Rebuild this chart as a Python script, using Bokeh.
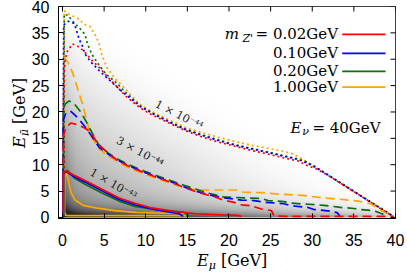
import numpy as np
from bokeh.plotting import figure
from bokeh.models import Range1d, FixedTicker, Label, Div
from bokeh.layouts import row, column
from bokeh.embed import file_html
from bokeh.resources import INLINE

# ---------------- data ----------------
ticks = [0, 5, 10, 15, 20, 25, 30, 35, 40]
masses = ["0.02GeV", "0.10GeV", "0.20GeV", "1.00GeV"]
colors = ["#ff0000", "#0000ff", "#0a700a", "#ffa500"]
E_nu = 40

# contour sigma = 1e-44 (dotted)
red_d1_x = [0.1, 0.1, 0.1, 0.2, 0.5, 1.2, 1.8, 2.6, 3.6, 4.5, 5.5, 6.7, 7.6, 9.3, 10.7, 12.8, 14.7, 16.7, 18.7, 20.7, 22.7, 24.7, 26.6, 28.3, 29.6, 30.4, 32, 34, 36, 38, 39.6]
red_d1_y = [0.3, 10, 20, 28, 31.3, 32.9, 32.5, 31.5, 29.7, 28.3, 26.5, 24.5, 23.0, 20.8, 19.5, 17.9, 16.5, 15.3, 14.3, 13.5, 12.7, 12.0, 11.3, 10.7, 9.7, 9.3, 7.9, 5.9, 3.9, 1.9, 0.3]
blue_d1_x = [0.1, 0.1, 0.1, 0.15, 0.7, 1.4, 1.6, 2.0, 2.4, 2.7, 3.4, 4.5, 5.8, 7.2, 9.3, 10.7, 12.8, 14.7, 16.7, 18.7, 20.7, 22.7, 24.7, 26.6, 28.3, 29.5, 30.5, 32, 34, 36, 38, 39.6]
blue_d1_y = [0.3, 10, 20, 36.5, 37.2, 36.8, 35.9, 33.8, 32.5, 31.0, 29.5, 27.7, 25.8, 23.8, 21.1, 19.8, 18.1, 16.7, 15.6, 14.6, 13.7, 13.0, 12.3, 11.6, 11.0, 10.2, 9.4, 7.9, 5.9, 3.9, 1.9, 0.3]
green_d1_x = [0.2, 0.2, 0.2, 0.7, 1.2, 2.0, 2.7, 3.0, 3.5, 4.2, 5.2, 6.3, 7.4, 9.3, 10.7, 12.8, 14.7, 16.7, 18.7, 20.7, 22.7, 24.7, 26.6, 28.3, 29.5, 30.5, 32, 34, 36, 38, 39.6]
green_d1_y = [0.3, 20, 38.5, 38.3, 37.2, 36.0, 34.7, 32.9, 31.0, 29.3, 27.2, 25.8, 24.0, 21.2, 19.9, 18.2, 16.8, 15.7, 14.7, 13.8, 13.1, 12.4, 11.7, 11.1, 10.4, 9.5, 8.0, 6.0, 4.0, 2.0, 0.4]
orange_d1_x = [0.2, 0.2, 0.2, 0.8, 2.0, 2.6, 3.3, 3.9, 4.4, 4.7, 5.3, 6.2, 7.4, 9.3, 10.7, 12.8, 14.7, 16.7, 18.7, 20.7, 22.7, 24.7, 26.6, 27.8, 29, 32, 35, 38, 39.7]
orange_d1_y = [0.3, 20, 39.2, 38.5, 37.6, 36.6, 36.2, 34.7, 32.9, 31.0, 28.5, 26.5, 24.6, 21.4, 20.1, 18.5, 17.1, 16.1, 15.2, 14.4, 13.7, 13.1, 12.5, 12.0, 10.9, 7.9, 4.9, 1.9, 0.3]

# contour sigma = 3e-44 (dashed)
red_d3_x = [0.1, 0.1, 0.4, 1.0, 1.8, 2.6, 3.4, 4.2, 5.4, 6.6, 7.7, 8.7, 9.8, 10.8, 12.2, 13.5, 14.6, 16.0, 17.3, 18.1, 19.3, 20.5, 21.5, 22.7, 23.9, 25.1, 25.4, 27.0, 39.8]
red_d3_y = [0.3, 15.5, 17.0, 17.9, 17.6, 17.0, 16.2, 14.0, 12.3, 10.8, 9.9, 9.2, 8.5, 7.9, 7.1, 6.4, 5.7, 4.9, 4.3, 4.0, 3.3, 2.9, 2.4, 2.2, 1.6, 1.3, 0.3, 0.2, 0.2]
blue_d3_x = [0.1, 0.1, 0.4, 1.0, 1.5, 2.1, 2.8, 3.6, 4.4, 5.5, 6.6, 7.7, 8.7, 9.8, 10.8, 12.2, 13.5, 14.6, 16.0, 17.5, 19.5, 21.5, 23.0, 24.2, 26.6, 27.5, 29.5, 30.2, 32.2, 33.0, 33.3]
blue_d3_y = [0.3, 18.5, 19.8, 20.1, 19.4, 18.4, 17.0, 15.2, 13.3, 12.0, 10.9, 10.0, 9.3, 8.6, 8.0, 7.2, 6.5, 5.8, 5.0, 4.3, 3.7, 3.3, 3.2, 2.9, 2.6, 2.2, 1.9, 1.5, 1.2, 0.9, 0.3]
green_d3_x = [0.1, 0.1, 0.3, 0.8, 1.4, 2.1, 2.8, 3.5, 4.3, 5.5, 6.6, 7.7, 8.7, 9.8, 10.8, 12.2, 13.5, 14.6, 16.0, 17.5, 19.3, 21.9, 23.9, 24.7, 26.6, 27.5, 29.5, 31.4, 33.4, 35.0, 35.8, 37.4, 38.2, 39.0]
green_d3_y = [0.3, 20, 21.5, 22.1, 21.6, 20.2, 18.3, 16.2, 13.9, 12.2, 11.1, 10.2, 9.5, 8.8, 8.2, 7.4, 6.7, 6.1, 5.4, 4.6, 3.9, 3.7, 3.6, 3.2, 3.0, 2.7, 2.5, 2.3, 1.9, 1.7, 1.5, 1.3, 0.8, 0.3]
orange_d3_x = [0.2, 0.6, 1.2, 1.8, 2.4, 2.9, 3.4, 4.2, 5.3, 6.6, 7.7, 8.7, 9.8, 10.8, 12.2, 13.5, 14.6, 16.0, 17.5, 18.9, 20.9, 21.7, 23.9, 26.3, 28.7, 31.4, 33.0, 35.5, 37.0, 38.2, 39.4]
orange_d3_y = [30.5, 29.5, 27.5, 24.5, 21.5, 18.5, 15.5, 13.3, 11.8, 10.6, 9.6, 8.9, 8.3, 7.7, 6.9, 6.2, 5.7, 5.2, 5.2, 5.2, 5.2, 4.8, 4.7, 4.4, 4.2, 3.7, 3.5, 3.1, 2.6, 1.4, 0.3]

# contour sigma = 1e-43 (solid)
red_s_x = [0.1, 0.1, 0.4, 1.4, 2.7, 4.8, 6.8, 8.7, 10.7, 13.5, 16.0, 19.0, 21.0, 21.5]
red_s_y = [0.3, 8.2, 8.8, 8.0, 7.0, 5.3, 3.7, 2.7, 1.8, 1.1, 0.7, 0.5, 0.4, 0.2]
blue_s_x = [0.1, 0.1, 0.45, 1.4, 2.7, 4.8, 6.8, 8.7, 10.7, 12.5, 14.0, 14.5]
blue_s_y = [0.3, 8.2, 8.7, 7.7, 6.7, 5.0, 3.4, 2.4, 1.6, 1.1, 0.7, 0.2]
green_s_x = [0.15, 0.15, 0.6, 1.4, 2.7, 4.8, 6.8, 8.7, 10.7, 12.5, 14.5, 15.2]
green_s_y = [0.3, 8.5, 8.9, 7.5, 6.3, 4.6, 3.1, 2.1, 1.6, 1.3, 1.0, 0.2]
orange_s_x = [14.8, 14.7, 11.0, 8.8, 6.3, 4.0, 2.5, 1.5, 1.0, 0.7, 0.45, 0.3, 0.25, 0.25, 0.4, 1.0, 5.0, 10.0, 14.8]
orange_s_y = [0.2, 0.75, 0.85, 0.95, 1.3, 1.8, 2.3, 3.3, 4.8, 7.0, 8.6, 8.3, 5.0, 1.0, 0.4, 0.35, 0.35, 0.35, 0.35]

contour_labels = ["1 × 10⁻⁴⁴", "3 × 10⁻⁴⁴", "1 × 10⁻⁴³"]

# ---------------- figure ----------------
p = figure(width=379, height=252, x_range=Range1d(-0.48, 40), y_range=Range1d(-0.2, 40),
           output_backend="svg", toolbar_location=None, margin=0,
           min_border_left=28, min_border_right=12, min_border_top=6, min_border_bottom=34)
p.grid.visible = False
p.outline_line_color = "black"
p.outline_line_width = 1
p.background_fill_color = "white"
p.border_fill_color = "white"

# background shading (rendering of the event density)
n = 400
g1 = np.linspace(0, 40, n)
X, Y = np.meshgrid(g1, g1)
t = np.clip(1 - (X + Y) / 40.0, 0, 1)
d = 0.45 * t ** 1.5 + 0.55 * np.exp(-Y / 1.5) * t ** 0.3 + 0.3 * np.exp(-X / 1.0) * t
d = np.clip(d, 0, 0.85)
d[X + Y > 40] = 0
gv = (255 * (1 - d)).astype(np.uint32)
img = np.uint32(0xFF000000) | (gv << np.uint32(16)) | (gv << np.uint32(8)) | gv
p.image_rgba(image=[img.astype(np.uint32)], x=0, y=0, dw=40, dh=40)

lw = 1.7
sets = [
    ([orange_d1_x, green_d1_x, blue_d1_x, red_d1_x], [orange_d1_y, green_d1_y, blue_d1_y, red_d1_y], "2 3"),
    ([orange_d3_x, green_d3_x, blue_d3_x, red_d3_x], [orange_d3_y, green_d3_y, blue_d3_y, red_d3_y], "9 5"),
    ([orange_s_x, green_s_x, blue_s_x, red_s_x], [orange_s_y, green_s_y, blue_s_y, red_s_y], "solid"),
]
order_colors = [colors[3], colors[2], colors[1], colors[0]]
for xs, ys, dash in sets:
    for k, (xx, yy, c) in enumerate(zip(xs, ys, order_colors)):
        if dash == "solid":
            p.line(xx, yy, line_color=c, line_width=lw)
        else:
            p.line(xx, yy, line_color=c, line_width=lw, line_dash=dash, line_dash_offset=k * 2)

# axes
for ax in (p.xaxis[0], p.yaxis[0]):
    ax.ticker = FixedTicker(ticks=ticks)
    ax.major_tick_in = 5
    ax.major_tick_out = 0
    ax.minor_tick_in = 0
    ax.minor_tick_out = 0
    ax.axis_line_color = "black"
    ax.major_tick_line_color = "black"
    ax.major_label_text_font = "Liberation Sans"
    ax.major_label_text_font_size = "16px"
    ax.major_label_text_color = "black"
p.xaxis[0].major_label_standoff = 15
p.yaxis[0].major_label_standoff = 9

# mirrored inner ticks on the top and right edges (half of each dash is clipped by the frame)
p.scatter(x=ticks, y=[40] * len(ticks), marker="dash", angle=np.pi / 2, size=10,
          line_color="black", line_width=1)
p.scatter(x=[40] * len(ticks), y=ticks, marker="dash", size=10, line_color="black", line_width=1)

SERIF = "DejaVu Serif"

def lab(text, x, y, size, style="normal", align="left", angle=0.0, color="black", font=SERIF, baseline="middle"):
    p.add_layout(Label(x=x, y=y, text=text, text_font=font, text_font_size=size,
                       text_font_style=style, text_align=align, text_baseline=baseline,
                       angle=angle, text_color=color))

# contour labels
lab(contour_labels[0], 14.0, 19.4, "11px", angle=-0.47, align="center", color="#222222")
lab(contour_labels[1], 9.3, 12.4, "11px", angle=-0.50, align="center", color="#222222")
lab(contour_labels[2], 6.1, 6.3, "11px", angle=-0.52, align="center", color="#222222")

# legend
rows_y = [34.7, 31.1, 27.7, 24.7]
for mtxt, c, yy in zip(masses, colors, rows_y):
    lab(mtxt, 33.1, yy, "15px", align="right")
    p.segment(x0=[33.6], y0=[yy], x1=[38.8], y1=[yy], line_color=c, line_width=1.7)
lab("=", 24.7, rows_y[0], "15px", align="right")
lab("Z'", 22.9, rows_y[0] - 0.7, "11px", style="italic", align="right")
lab("m", 21.2, rows_y[0], "15px", style="italic", align="right")

# E_nu label
lab("= %dGeV" % E_nu, 38.2, 17.0, "15px", align="right")
lab("ν", 29.6, 16.3, "11px", style="italic", align="right")
lab("E", 28.7, 17.0, "15px", style="italic", align="right")

FONT_CSS = "font-family:'DejaVu Serif';font-size:16px;color:black;white-space:nowrap;"
SUB_CSS = "font-size:11px;vertical-align:-3px;line-height:0;"
xlabel = Div(width=407, height=21, margin=0,
             text=f'<div style="{FONT_CSS}margin:0 0 0 197px;padding:0;line-height:17px;">'
                  f'<i>E</i><span style="{SUB_CSS}"><i>μ</i></span> [GeV]</div>')
ylabel = Div(width=28, height=252, margin=0,
             text=f'<div style="{FONT_CSS}margin:148px 0 0 11px;padding:0;line-height:18px;'
                  'width:max-content;transform:rotate(-90deg);transform-origin:0 0;">'
                  f'<i>E</i><span style="{SUB_CSS}"><i>μ̄</i></span> [GeV]</div>')

layout = column(row(ylabel, p, spacing=0, margin=0), xlabel, spacing=0, margin=0)
open("out.html", "w").write(file_html(layout, INLINE))
